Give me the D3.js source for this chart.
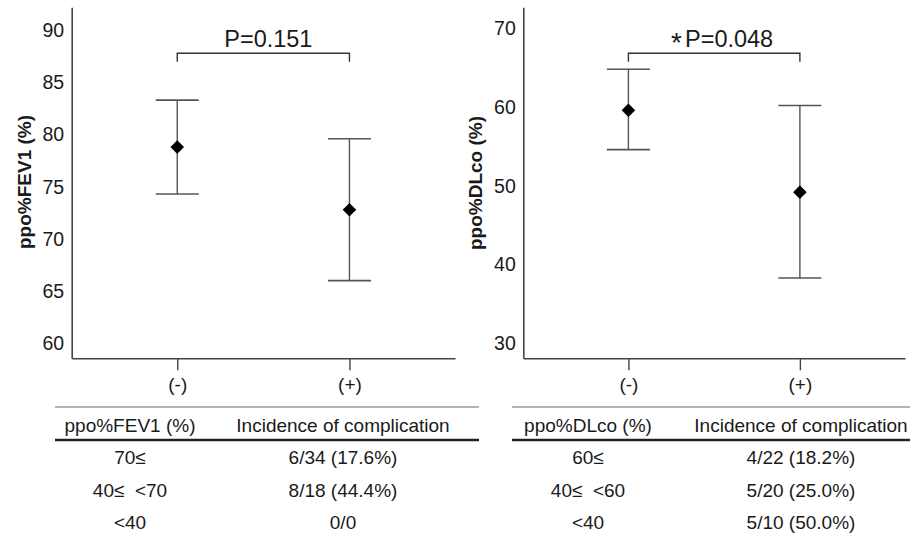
<!DOCTYPE html>
<html>
<head>
<meta charset="utf-8">
<script src="https://cdn.jsdelivr.net/npm/d3@7"></script>
<style>
  html, body { margin: 0; padding: 0; background: #fff; }
  svg { display: block; font-family: "Liberation Sans", Arial, sans-serif; }
</style>
</head>
<body>
<svg id="chart" width="910" height="536"></svg>
<script>
// ---------- data ----------
const categories = ["(-)", "(+)"];

const fevMean = [78.8, 72.8];
const fevLow  = [74.3, 66.0];
const fevHigh = [83.3, 79.6];
const fevTicks = [60, 65, 70, 75, 80, 85, 90];
const fevP = "P=0.151";
const fevTitle = "ppo%FEV1 (%)";

const dlcoMean = [59.6, 49.2];
const dlcoLow  = [54.6, 38.3];
const dlcoHigh = [64.8, 60.2];
const dlcoTicks = [30, 40, 50, 60, 70];
const dlcoP = "P=0.048";
const dlcoTitle = "ppo%DLco (%)";

const fevTableHeader = ["ppo%FEV1 (%)", "Incidence of complication"];
const fevTableCol1 = ["70\u2264", "40\u2264  <70", "<40"];
const fevTableCol2 = ["6/34 (17.6%)", "8/18 (44.4%)", "0/0"];

const dlcoTableHeader = ["ppo%DLco (%)", "Incidence of complication"];
const dlcoTableCol1 = ["60\u2264", "40\u2264  <60", "<40"];
const dlcoTableCol2 = ["4/22 (18.2%)", "5/20 (25.0%)", "5/10 (50.0%)"];

// ---------- layout ----------
const svg = d3.select("#chart");
const axisColor = "#444";
const barColor = "#555";
const textColor = "#1a1a1a";
const FONT = '"Liberation Sans", Arial, sans-serif';

function panel(cfg) {
  const g = svg.append("g");
  const y = d3.scaleLinear().domain(cfg.yDomain).range([358.3, 7.3]);
  const x = d3.scalePoint().domain(categories).range([cfg.x0, cfg.x1]).padding(0.613);

  // y axis
  const ya = g.append("g")
    .attr("transform", `translate(${cfg.x0},0)`)
    .call(d3.axisLeft(y).tickValues(cfg.ticks).tickSize(0).tickPadding(7.5).tickSizeOuter(0));
  ya.select(".domain").attr("stroke", axisColor).attr("stroke-width", 1.6);
  ya.selectAll("text").attr("font-size", 19.5).attr("fill", textColor).attr("font-family", FONT);

  // x axis
  const xa = g.append("g")
    .attr("transform", `translate(0,358.3)`)
    .call(d3.axisBottom(x).tickSize(12).tickPadding(7).tickSizeOuter(0));
  xa.select(".domain").attr("stroke", axisColor).attr("stroke-width", 1.6);
  xa.selectAll(".tick line").attr("stroke", axisColor).attr("stroke-width", 1.4);
  xa.selectAll("text").attr("font-size", 19).attr("fill", textColor).attr("font-family", FONT);

  // title
  g.append("text")
    .attr("transform", `translate(${cfg.titleX},${cfg.titleY}) rotate(-90)`)
    .attr("text-anchor", "middle")
    .attr("dominant-baseline", "central")
    .attr("font-size", 19)
    .attr("font-weight", "bold")
    .attr("fill", textColor)
    .text(cfg.title);

  // error bars
  const capHalf = 21.5;
  categories.forEach((c, i) => {
    const cx = x(c);
    g.append("line").attr("x1", cx).attr("x2", cx)
      .attr("y1", y(cfg.high[i])).attr("y2", y(cfg.low[i]))
      .attr("stroke", barColor).attr("stroke-width", 1.4);
    [cfg.high[i], cfg.low[i]].forEach(v => {
      g.append("line").attr("x1", cx - capHalf).attr("x2", cx + capHalf)
        .attr("y1", y(v)).attr("y2", y(v))
        .attr("stroke", barColor).attr("stroke-width", 1.6);
    });
    g.append("path")
      .attr("d", d3.symbol(d3.symbolSquare, 92)())
      .attr("transform", `translate(${cx},${y(cfg.mean[i])}) rotate(45)`)
      .attr("fill", "#000");
  });

  // bracket
  const bx0 = x(categories[0]), bx1 = x(categories[1]);
  const by = 53.3;
  g.append("path")
    .attr("d", `M${bx0},${by + 8.5}V${by}H${bx1}V${by + 8.5}`)
    .attr("fill", "none").attr("stroke", "#333").attr("stroke-width", 1.4);
  const t = g.append("text")
    .attr("x", (bx0 + bx1) / 2 + cfg.pShift)
    .attr("y", 47)
    .attr("text-anchor", "middle")
    .attr("font-size", 23.5)
    .attr("fill", textColor);
  if (cfg.star) {
    t.append("tspan").attr("font-size", 28).attr("dy", 5).text("*");
    t.append("tspan").attr("dy", -5).attr("dx", 3).text(cfg.p);
  } else {
    t.text(cfg.p);
  }
}

panel({ x0: 71.7, x1: 455, yDomain: [58.56, 92.2], ticks: fevTicks,
        mean: fevMean, low: fevLow, high: fevHigh, title: fevTitle,
        titleX: 24, titleY: 182, p: fevP, star: false, pShift: 5 });
panel({ x0: 523.3, x1: 905, yDomain: [28.1, 72.67], ticks: dlcoTicks,
        mean: dlcoMean, low: dlcoLow, high: dlcoHigh, title: dlcoTitle,
        titleX: 475, titleY: 183, p: dlcoP, star: true, pShift: 8 });

// ---------- tables ----------
function table(cfg) {
  const g = svg.append("g");
  g.append("line").attr("x1", cfg.x0).attr("x2", cfg.x1).attr("y1", 407).attr("y2", 407)
    .attr("stroke", "#666").attr("stroke-width", 1.2);
  g.append("line").attr("x1", cfg.x0).attr("x2", cfg.x1).attr("y1", 440).attr("y2", 440)
    .attr("stroke", "#222").attr("stroke-width", 2.4);
  const rowY = d3.scalePoint().domain(d3.range(cfg.col1.length + 1)).range([425.5, 522.7]);
  const cols = [cfg.c1, cfg.c2];
  cfg.header.forEach((h, j) => {
    g.append("text").attr("x", cols[j]).attr("y", rowY(0))
      .attr("text-anchor", "middle").attr("dominant-baseline", "central")
      .attr("font-size", 19).attr("fill", textColor).text(h);
  });
  cfg.col1.forEach((v, i) => {
    g.append("text").attr("x", cfg.c1).attr("y", rowY(i + 1))
      .attr("text-anchor", "middle").attr("dominant-baseline", "central")
      .attr("font-size", 19).attr("fill", textColor)
      .style("white-space", "pre").attr("xml:space", "preserve").text(v);
    g.append("text").attr("x", cfg.c2).attr("y", rowY(i + 1))
      .attr("text-anchor", "middle").attr("dominant-baseline", "central")
      .attr("font-size", 19).attr("fill", textColor).text(cfg.col2[i]);
  });
}

table({ x0: 55, x1: 479, c1: 130, c2: 343, header: fevTableHeader, col1: fevTableCol1, col2: fevTableCol2 });
table({ x0: 512, x1: 910, c1: 588, c2: 801, header: dlcoTableHeader, col1: dlcoTableCol1, col2: dlcoTableCol2 });
</script>
</body>
</html>
